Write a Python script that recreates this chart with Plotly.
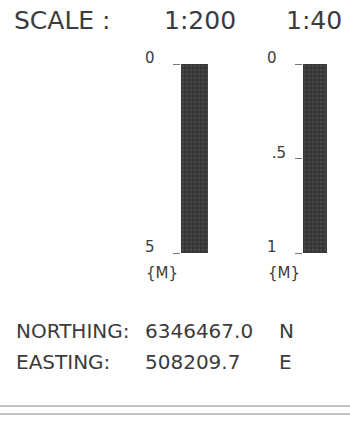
import plotly.graph_objects as go

# scale bars
scale_names = ["1:200", "1:40"]
bar_lengths = [5, 1]                      # metres shown by each bar
tick_values = [[0, 5], [0, 0.5, 1]]
tick_labels = [["0", "5"], ["0", ".5", "1"]]
unit_label = "{M}"

coord_labels = ["NORTHING:", "EASTING:"]
coord_values = ["6346467.0", "508209.7"]
coord_suffix = ["N", "E"]

W, H = 350, 434
ink = "#3c3c3c"
font = "DejaVu Sans"

def px(x):
    return x / W

def py(y):
    return 1 - y / H

# pixel boxes of the two bars (left, right), same top/bottom
bar_x = [(181, 208), (303, 327)]
bar_top, bar_bot = 64, 253

fig = go.Figure()
for i, (name, length) in enumerate(zip(scale_names, bar_lengths)):
    n = "" if i == 0 else str(i + 1)
    fig.add_trace(go.Bar(x=[0], y=[length], width=1, xaxis="x" + n, yaxis="y" + n,
                         marker=dict(color="#3a3a3a", line=dict(width=0),
                                     pattern=dict(shape=".", fgcolor="#5a5a5a", bgcolor="#383838",
                                                  size=4, solidity=0.25)),
                         showlegend=False, hoverinfo="skip"))
    x0, x1 = bar_x[i]
    # labels on the sheet are left aligned, so pad the one-character ones
    padded = [t + "\u2007" if len(t) == 1 else t for t in tick_labels[i]]
    fig.update_layout(**{
        "xaxis" + n: dict(domain=[px(x0), px(x1)], range=[-0.5, 0.5], visible=False,
                          anchor="y" + n, automargin=False),
        "yaxis" + n: dict(domain=[py(bar_bot), py(bar_top)], range=[length, 0], anchor="x" + n,
                          tickvals=tick_values[i], ticktext=padded,
                          ticks="outside", ticklen=7, tickwidth=1.2, tickcolor="#777",
                          ticklabelstandoff=6, ticklabelshift=6,
                          showgrid=False, zeroline=False, showline=False, automargin=False,
                          tickfont=dict(family=font, size=15, color=ink)),
    })
    # scale name above and unit below each bar
    fig.add_annotation(x=px(x0 - 19), y=py(20), text=name, xref="paper", yref="paper",
                       xanchor="left", yanchor="middle", showarrow=False,
                       font=dict(family=font, size=25, color=ink))
    fig.add_annotation(x=px(x0 - 37), y=py(273), text=unit_label, xref="paper", yref="paper",
                       xanchor="left", yanchor="middle", showarrow=False,
                       font=dict(family=font, size=15, color=ink))

fig.add_annotation(x=px(12), y=py(20), text="SCALE :", xref="paper", yref="paper",
                   xanchor="left", yanchor="middle", showarrow=False,
                   font=dict(family=font, size=25, color=ink))

for i, (lab, val, suf) in enumerate(zip(coord_labels, coord_values, coord_suffix)):
    yc = 331 + i * 31
    for xp, t in [(14, lab), (143, val), (277, suf)]:
        fig.add_annotation(x=px(xp), y=py(yc), text=t, xref="paper", yref="paper",
                           xanchor="left", yanchor="middle", showarrow=False,
                           font=dict(family=font, size=20, color=ink))

# double rule at the foot
for yl in [406, 414]:
    fig.add_shape(type="line", xref="paper", yref="paper", x0=0, x1=1, y0=py(yl), y1=py(yl),
                  line=dict(color="#8a8a8a", width=1.2))

fig.update_layout(width=W, height=H, margin=dict(l=0, r=0, t=0, b=0, pad=0),
                  paper_bgcolor="white", plot_bgcolor="white", bargap=0)
fig.write_html("out.html", config={"displayModeBar": False},
               post_script="document.body.style.margin='0';")
